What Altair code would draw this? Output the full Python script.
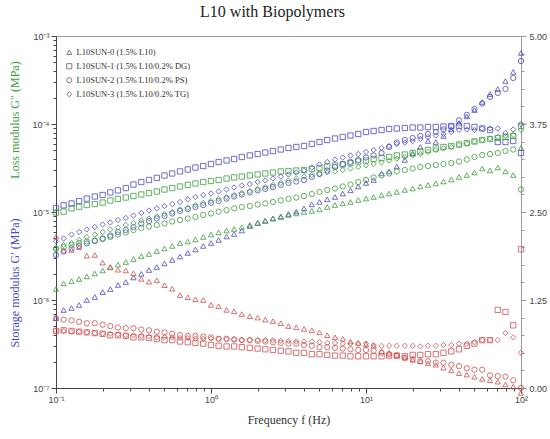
import altair as alt
import pandas as pd

# Oscillatory frequency sweep, 20 points per decade (Hz)
freq_hz = [
    0.1, 0.112, 0.126, 0.141, 0.158, 0.178, 0.2, 0.224, 0.251, 0.282,
    0.316, 0.355, 0.398, 0.447, 0.501, 0.562, 0.631, 0.708, 0.794, 0.891,
    1.0, 1.12, 1.26, 1.41, 1.58, 1.78, 2.0, 2.24, 2.51, 2.82,
    3.16, 3.55, 3.98, 4.47, 5.01, 5.62, 6.31, 7.08, 7.94, 8.91,
    10.0, 11.2, 12.6, 14.1, 15.8, 17.8, 20.0, 22.4, 25.1, 28.2,
    31.6, 35.5, 39.8, 44.7, 50.1, 56.2, 63.1, 70.8, 79.4, 89.1,
    100.0,
]

sample_labels = [
    "L10SUN-0 (1.5% L10)",
    "L10SUN-1 (1.5% L10/0.2% DG)",
    "L10SUN-2 (1.5% L10/0.2% PS)",
    "L10SUN-3 (1.5% L10/0.2% TG)",
]
sample_shapes = ["triangle-up", "square", "circle", "diamond"]

# Storage modulus G' (MPa)
storage_sun0 = [
    6.24e-7, 7.70e-7, 8.11e-7, 8.77e-7, 1.00e-6, 1.08e-6, 1.23e-6, 1.33e-6, 1.48e-6, 1.60e-6,
    1.80e-6, 1.98e-6, 2.19e-6, 2.37e-6, 2.60e-6, 2.85e-6, 3.12e-6, 3.42e-6, 3.75e-6, 4.11e-6,
    4.44e-6, 4.81e-6, 5.27e-6, 5.62e-6, 6.16e-6, 6.93e-6, 7.50e-6, 7.90e-6, 8.44e-6, 8.89e-6,
    9.49e-6, 1.01e-5, 1.10e-5, 1.22e-5, 1.30e-5, 1.39e-5, 1.48e-5, 1.62e-5, 1.76e-5, 1.95e-5,
    2.14e-5, 2.31e-5, 2.74e-5, 2.89e-5, 3.29e-5, 3.90e-5, 4.62e-5, 5.48e-5, 6.41e-5, 6.24e-5,
    7.31e-5, 8.77e-5, 1.03e-4, 1.22e-4, 1.44e-4, 1.78e-4, 2.19e-4, 2.50e-4, 3.08e-4, 3.90e-4,
    6.41e-4,
]
storage_sun1 = [
    1.11e-5, 1.19e-5, 1.25e-5, 1.33e-5, 1.42e-5, 1.50e-5, 1.56e-5, 1.67e-5, 1.76e-5, 1.87e-5,
    2.05e-5, 2.19e-5, 2.31e-5, 2.44e-5, 2.60e-5, 2.74e-5, 2.89e-5, 3.04e-5, 3.20e-5, 3.33e-5,
    3.51e-5, 3.70e-5, 3.85e-5, 4.00e-5, 4.22e-5, 4.39e-5, 4.56e-5, 4.74e-5, 4.93e-5, 5.13e-5,
    5.34e-5, 5.48e-5, 5.62e-5, 5.93e-5, 6.24e-5, 6.58e-5, 6.84e-5, 7.12e-5, 7.40e-5, 7.70e-5,
    8.11e-5, 8.33e-5, 8.55e-5, 8.77e-5, 8.89e-5, 9.01e-5, 9.12e-5, 9.12e-5, 9.25e-5, 9.25e-5,
    9.37e-5, 9.49e-5, 9.49e-5, 9.49e-5, 9.25e-5, 8.89e-5, 8.55e-5, 6.24e-5, 6.24e-5, 6.41e-5,
    4.68e-5,
]
storage_sun2 = [
    3.25e-6, 3.56e-6, 3.85e-6, 4.11e-6, 4.39e-6, 4.68e-6, 5.00e-6, 5.41e-6, 5.93e-6, 6.24e-6,
    6.75e-6, 7.40e-6, 7.90e-6, 8.44e-6, 9.01e-6, 9.62e-6, 1.03e-5, 1.08e-5, 1.14e-5, 1.20e-5,
    1.27e-5, 1.33e-5, 1.42e-5, 1.50e-5, 1.58e-5, 1.67e-5, 1.76e-5, 1.83e-5, 1.92e-5, 2.03e-5,
    2.14e-5, 2.22e-5, 2.31e-5, 2.50e-5, 2.70e-5, 2.96e-5, 3.25e-5, 3.51e-5, 3.70e-5, 3.90e-5,
    4.16e-5, 4.39e-5, 4.68e-5, 5.48e-5, 6.16e-5, 6.58e-5, 6.93e-5, 7.31e-5, 7.70e-5, 8.11e-5,
    8.66e-5, 9.37e-5, 1.10e-4, 1.27e-4, 1.48e-4, 1.71e-4, 2.03e-4, 2.25e-4, 2.50e-4, 3.33e-4,
    5.20e-4,
]
storage_sun3 = [
    4.62e-6, 5.00e-6, 5.55e-6, 5.93e-6, 6.33e-6, 6.75e-6, 7.21e-6, 7.60e-6, 8.11e-6, 8.55e-6,
    9.12e-6, 9.74e-6, 1.04e-5, 1.10e-5, 1.17e-5, 1.23e-5, 1.30e-5, 1.39e-5, 1.48e-5, 1.56e-5,
    1.62e-5, 1.71e-5, 1.80e-5, 1.90e-5, 2.00e-5, 2.08e-5, 2.19e-5, 2.28e-5, 2.40e-5, 2.53e-5,
    2.67e-5, 2.81e-5, 2.96e-5, 3.20e-5, 3.47e-5, 3.70e-5, 3.95e-5, 4.16e-5, 4.39e-5, 4.56e-5,
    4.81e-5, 5.07e-5, 5.34e-5, 5.62e-5, 5.93e-5, 6.16e-5, 6.41e-5, 6.75e-5, 7.12e-5, 7.40e-5,
    7.70e-5, 8.11e-5, 8.55e-5, 8.66e-5, 8.55e-5, 8.89e-5, 8.89e-5, 8.89e-5, 7.90e-5, 8.66e-5,
    1.00e-4,
]

# Loss modulus G'' (MPa)
loss_sun0 = [
    1.33e-6, 1.54e-6, 1.64e-6, 1.73e-6, 1.85e-6, 2.00e-6, 2.16e-6, 2.34e-6, 2.53e-6, 2.70e-6,
    2.92e-6, 3.16e-6, 3.33e-6, 3.60e-6, 3.85e-6, 4.11e-6, 4.44e-6, 4.62e-6, 4.87e-6, 5.20e-6,
    5.55e-6, 5.85e-6, 6.16e-6, 6.41e-6, 6.75e-6, 7.12e-6, 7.50e-6, 8.01e-6, 8.44e-6, 8.77e-6,
    9.25e-6, 9.62e-6, 1.00e-5, 1.03e-5, 1.07e-5, 1.14e-5, 1.20e-5, 1.25e-5, 1.30e-5, 1.37e-5,
    1.42e-5, 1.48e-5, 1.56e-5, 1.62e-5, 1.69e-5, 1.78e-5, 1.85e-5, 1.95e-5, 2.03e-5, 2.11e-5,
    2.22e-5, 2.34e-5, 2.50e-5, 2.63e-5, 2.81e-5, 3.12e-5, 2.96e-5, 3.20e-5, 2.89e-5, 2.63e-5,
    5.34e-5,
]
loss_sun1 = [
    9.87e-6, 1.01e-5, 1.10e-5, 1.15e-5, 1.20e-5, 1.23e-5, 1.28e-5, 1.35e-5, 1.41e-5, 1.46e-5,
    1.52e-5, 1.58e-5, 1.64e-5, 1.71e-5, 1.80e-5, 1.87e-5, 1.95e-5, 2.03e-5, 2.11e-5, 2.19e-5,
    2.25e-5, 2.31e-5, 2.40e-5, 2.47e-5, 2.53e-5, 2.60e-5, 2.67e-5, 2.74e-5, 2.81e-5, 2.89e-5,
    2.92e-5, 2.96e-5, 3.00e-5, 3.08e-5, 3.16e-5, 3.29e-5, 3.38e-5, 3.47e-5, 3.60e-5, 3.75e-5,
    3.85e-5, 4.00e-5, 4.11e-5, 4.22e-5, 4.39e-5, 4.50e-5, 4.68e-5, 4.87e-5, 5.07e-5, 5.27e-5,
    5.48e-5, 5.62e-5, 5.85e-5, 6.08e-5, 6.33e-5, 6.58e-5, 6.75e-5, 6.93e-5, 7.12e-5, 7.31e-5,
    9.49e-5,
]
loss_sun2 = [
    3.80e-6, 4.00e-6, 4.22e-6, 4.44e-6, 4.62e-6, 4.74e-6, 4.93e-6, 5.20e-6, 5.55e-6, 5.85e-6,
    6.24e-6, 6.58e-6, 6.84e-6, 7.12e-6, 7.40e-6, 7.80e-6, 8.11e-6, 8.44e-6, 8.77e-6, 9.25e-6,
    9.62e-6, 1.01e-5, 1.05e-5, 1.10e-5, 1.14e-5, 1.17e-5, 1.22e-5, 1.25e-5, 1.30e-5, 1.35e-5,
    1.41e-5, 1.46e-5, 1.52e-5, 1.60e-5, 1.69e-5, 1.78e-5, 1.85e-5, 1.95e-5, 2.05e-5, 2.19e-5,
    2.31e-5, 2.47e-5, 2.60e-5, 2.74e-5, 2.89e-5, 3.00e-5, 3.12e-5, 3.25e-5, 3.33e-5, 3.42e-5,
    3.51e-5, 3.60e-5, 3.75e-5, 3.95e-5, 4.22e-5, 4.44e-5, 4.56e-5, 4.68e-5, 4.93e-5, 5.13e-5,
    1.80e-5,
]
loss_sun3 = [
    3.90e-6, 4.22e-6, 4.44e-6, 4.81e-6, 5.20e-6, 5.55e-6, 5.93e-6, 6.33e-6, 6.67e-6, 7.12e-6,
    7.50e-6, 8.01e-6, 8.44e-6, 8.89e-6, 9.49e-6, 1.00e-5, 1.07e-5, 1.12e-5, 1.20e-5, 1.27e-5,
    1.33e-5, 1.41e-5, 1.48e-5, 1.56e-5, 1.64e-5, 1.73e-5, 1.83e-5, 1.92e-5, 2.03e-5, 2.14e-5,
    2.28e-5, 2.40e-5, 2.53e-5, 2.63e-5, 2.70e-5, 2.81e-5, 2.89e-5, 3.00e-5, 3.12e-5, 3.25e-5,
    3.38e-5, 3.51e-5, 3.65e-5, 3.85e-5, 4.05e-5, 4.22e-5, 4.39e-5, 4.56e-5, 4.81e-5, 5.07e-5,
    5.27e-5, 5.48e-5, 5.77e-5, 6.00e-5, 6.33e-5, 6.58e-5, 6.84e-5, 7.12e-5, 7.31e-5, 7.50e-5,
    8.55e-5,
]

# Loss factor tan(delta) = G''/G' (right axis)
tan_sun0 = [
    2.15, 1.95, 1.96, 2.00, 1.88, 1.89, 1.78, 1.72, 1.68, 1.67,
    1.63, 1.55, 1.51, 1.53, 1.46, 1.41, 1.32, 1.29, 1.26, 1.25,
    1.18, 1.16, 1.11, 1.09, 1.05, 1.02, 1.00, 0.97, 0.95, 0.92,
    0.88, 0.86, 0.84, 0.82, 0.79, 0.75, 0.72, 0.70, 0.66, 0.64,
    0.62, 0.60, 0.52, 0.50, 0.47, 0.43, 0.40, 0.38, 0.35, 0.33,
    0.29, 0.25, 0.21, 0.19, 0.16, 0.13, 0.11, 0.09, 0.05, 0.02,
    -0.07,
]
tan_sun1 = [
    0.81, 0.82, 0.81, 0.80, 0.79, 0.78, 0.77, 0.75, 0.75, 0.74,
    0.72, 0.72, 0.71, 0.70, 0.68, 0.68, 0.66, 0.65, 0.64, 0.63,
    0.61, 0.60, 0.59, 0.59, 0.58, 0.57, 0.56, 0.55, 0.54, 0.53,
    0.52, 0.50, 0.50, 0.48, 0.48, 0.47, 0.46, 0.46, 0.45, 0.45,
    0.45, 0.45, 0.45, 0.46, 0.46, 0.45, 0.47, 0.47, 0.48, 0.48,
    0.50, 0.52, 0.55, 0.60, 0.63, 0.68, 0.68, 1.11, 1.08, 0.89,
    1.97,
]
tan_sun2 = [
    0.99, 0.97, 0.96, 0.94, 0.92, 0.92, 0.90, 0.88, 0.86, 0.85,
    0.85, 0.83, 0.82, 0.80, 0.79, 0.77, 0.75, 0.74, 0.74, 0.73,
    0.72, 0.70, 0.70, 0.69, 0.68, 0.68, 0.67, 0.66, 0.65, 0.64,
    0.63, 0.63, 0.61, 0.60, 0.58, 0.58, 0.57, 0.56, 0.55, 0.54,
    0.54, 0.53, 0.50, 0.48, 0.46, 0.43, 0.41, 0.38, 0.38, 0.36,
    0.36, 0.33, 0.31, 0.28, 0.26, 0.26, 0.18, 0.17, 0.16, 0.11,
    0.00,
]
tan_sun3 = [
    0.81, 0.81, 0.80, 0.80, 0.79, 0.78, 0.77, 0.77, 0.76, 0.75,
    0.75, 0.74, 0.73, 0.72, 0.72, 0.72, 0.71, 0.71, 0.70, 0.70,
    0.70, 0.70, 0.69, 0.69, 0.68, 0.68, 0.68, 0.68, 0.68, 0.67,
    0.67, 0.66, 0.66, 0.66, 0.65, 0.64, 0.64, 0.63, 0.63, 0.63,
    0.63, 0.61, 0.60, 0.60, 0.60, 0.60, 0.60, 0.59, 0.60, 0.60,
    0.61, 0.61, 0.63, 0.63, 0.65, 0.68, 0.68, 0.68, 0.78, 0.72,
    0.50,
]

storage_sets = [storage_sun0, storage_sun1, storage_sun2, storage_sun3]
loss_sets = [loss_sun0, loss_sun1, loss_sun2, loss_sun3]
tan_sets = [tan_sun0, tan_sun1, tan_sun2, tan_sun3]

# Axis ticks
x_decades = [0.1, 1.0, 10.0, 100.0]
y_decades = [1e-7, 1e-6, 1e-5, 1e-4, 1e-3]
minor_steps = [2, 3, 4, 5, 6, 7, 8, 9]
tan_ticks = [0.0, 0.25, 0.5, 0.75, 1.0, 1.25, 1.5, 1.75, 2.0, 2.25, 2.5,
             2.75, 3.0, 3.25, 3.5, 3.75, 4.0, 4.25, 4.5, 4.75, 5.0]

x_tick_values = x_decades + [d * m for d in x_decades[:-1] for m in minor_steps]
y_tick_values = y_decades + [d * m for d in y_decades[:-1] for m in minor_steps]

BLUE = "#4b4bc3"
GREEN = "#3f9d3f"
RED = "#cf5252"
AXIS_DARK = "#444444"
AXIS_LIGHT = "#9a9a9a"
SERIF = "Liberation Serif"
SANS = "Liberation Sans"

# Long-form tables
mod_rows = []
for label, gp, gpp in zip(sample_labels, storage_sets, loss_sets):
    for f, a, b in zip(freq_hz, gp, gpp):
        mod_rows.append({"freq": f, "modulus": a, "kind": "storage", "sample": label})
        mod_rows.append({"freq": f, "modulus": b, "kind": "loss", "sample": label})
mod_df = pd.DataFrame(mod_rows)

tan_rows = []
for label, td in zip(sample_labels, tan_sets):
    for f, t in zip(freq_hz, td):
        tan_rows.append({"freq": f, "tan_delta": t, "sample": label})
tan_df = pd.DataFrame(tan_rows)

LOG_MAJOR = "abs(log(datum.value) / LN10 - round(log(datum.value) / LN10)) < 1e-6"
TAN_MAJOR = "abs(datum.value / 1.25 - round(datum.value / 1.25)) < 1e-6"


def x_encoding():
    return alt.X(
        "freq:Q",
        scale=alt.Scale(type="log", domain=[0.1, 100], nice=False),
        axis=alt.Axis(
            values=x_tick_values,
            labelExpr=(
                f"{LOG_MAJOR} ? '10' + ['⁻¹', '⁰', '¹', '²']"
                "[round(log(datum.value) / LN10) + 1] : ''"
            ),
            tickSize={"condition": {"test": LOG_MAJOR, "value": 5}, "value": 3},
            labelFlush=False,
            labelOverlap=False,
            labelFont=SANS,
            labelFontSize=9,
            labelColor="#444444",
            labelPadding=2,
            domainColor=AXIS_DARK,
            tickColor=AXIS_DARK,
            grid=False,
            title="Frequency  f  (Hz)",
            titleFont=SERIF,
            titleFontSize=12,
            titleFontWeight="normal",
            titleColor="#333333",
            titlePadding=10,
        ),
    )


shape_scale = alt.Scale(domain=sample_labels, range=sample_shapes)

moduli = alt.Chart(mod_df).mark_point(
    filled=False, size=28, strokeWidth=0.85, opacity=0.95
).encode(
    x=x_encoding(),
    y=alt.Y(
        "modulus:Q",
        scale=alt.Scale(type="log", domain=[1e-7, 1e-3], nice=False),
        axis=alt.Axis(
            orient="left",
            values=y_tick_values,
            labelExpr=(
                f"{LOG_MAJOR} ? '10' + ['⁻⁷', '⁻⁶', '⁻⁵', '⁻⁴', '⁻³']"
                "[round(log(datum.value) / LN10) + 7] : ''"
            ),
            tickSize={"condition": {"test": LOG_MAJOR, "value": 5}, "value": 3},
            labelFlush=False,
            labelOverlap=False,
            labelFont=SANS,
            labelFontSize=9,
            labelColor="#444444",
            labelPadding=2,
            domainColor=AXIS_DARK,
            tickColor=AXIS_DARK,
            grid=False,
            title=None,
        ),
    ),
    color=alt.Color(
        "kind:N",
        scale=alt.Scale(domain=["storage", "loss"], range=[BLUE, GREEN]),
        legend=None,
    ),
    shape=alt.Shape(
        "sample:N",
        scale=shape_scale,
        legend=alt.Legend(
            orient="none",
            legendX=9,
            legendY=12,
            title=None,
            labelFont=SERIF,
            labelFontSize=8.5,
            labelColor="#333333",
            labelLimit=400,
            labelOffset=3,
            symbolSize=26,
            symbolStrokeWidth=0.8,
            symbolStrokeColor="#555555",
            symbolFillColor="transparent",
            rowPadding=5,
            padding=0,
        ),
    ),
)

loss_factor = alt.Chart(tan_df).mark_point(
    filled=False, size=28, strokeWidth=0.85, color=RED, opacity=0.95
).encode(
    x=x_encoding(),
    y=alt.Y(
        "tan_delta:Q",
        scale=alt.Scale(domain=[0, 5], nice=False, zero=False),
        axis=alt.Axis(
            orient="right",
            values=tan_ticks,
            labelExpr=f"{TAN_MAJOR} ? format(datum.value, '.2f') : ''",
            tickSize={"condition": {"test": TAN_MAJOR, "value": 5}, "value": 3},
            labelFlush=False,
            labelOverlap=False,
            labelFont=SANS,
            labelFontSize=9,
            labelColor="#444444",
            labelPadding=3,
            domainColor=AXIS_LIGHT,
            tickColor=AXIS_LIGHT,
            grid=False,
            title=None,
        ),
    ),
    shape=alt.Shape("sample:N", scale=shape_scale, legend=None),
)

# Two-colour vertical axis title on the left
axis_titles = pd.DataFrame({
    "text": ["Loss modulus  G″  (MPa)", "Storage modulus  G′  (MPa)"],
    "part": ["loss", "storage"],
})

loss_title = alt.Chart(axis_titles[axis_titles.part == "loss"]).mark_text(
    angle=270, font=SERIF, fontSize=12, color=GREEN, align="center", baseline="middle"
).encode(text="text:N", x=alt.value(-41), y=alt.value(84))

storage_title = alt.Chart(axis_titles[axis_titles.part == "storage"]).mark_text(
    angle=270, font=SERIF, fontSize=12, color=BLUE, align="center", baseline="middle"
).encode(text="text:N", x=alt.value(-41), y=alt.value(247))

chart = (
    alt.layer(moduli, loss_factor, loss_title, storage_title)
    .resolve_scale(y="independent", shape="independent")
    .properties(
        width=465,
        height=352,
        autosize=alt.AutoSizeParams(type="none"),
        padding={"left": 56, "top": 36, "right": 29, "bottom": 51},
        title=alt.TitleParams(
            "L10 with Biopolymers",
            font=SERIF,
            fontSize=16,
            fontWeight="normal",
            color="#222222",
            anchor="middle",
            dx=-16,
            offset=12,
        ),
        background="white",
    )
    .configure_view(stroke=AXIS_LIGHT, strokeWidth=1)
)

chart.save("out.html", embed_options={"renderer": "svg", "actions": False})
